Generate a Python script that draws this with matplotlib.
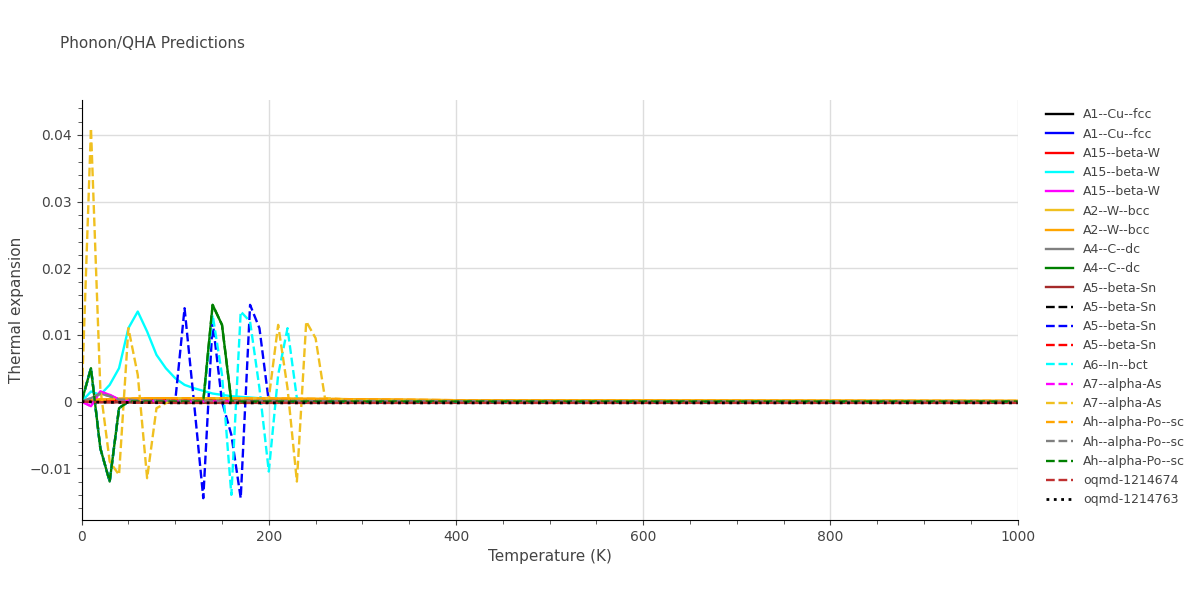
import matplotlib
matplotlib.use("Agg")
import matplotlib.pyplot as plt
import numpy as np

names = ["A1--Cu--fcc","A1--Cu--fcc","A15--beta-W","A15--beta-W","A15--beta-W","A2--W--bcc","A2--W--bcc",
         "A4--C--dc","A4--C--dc","A5--beta-Sn","A5--beta-Sn","A5--beta-Sn","A5--beta-Sn","A6--In--bct",
         "A7--alpha-As","A7--alpha-As","Ah--alpha-Po--sc","Ah--alpha-Po--sc","Ah--alpha-Po--sc","oqmd-1214674","oqmd-1214763"]
colors = ["black","blue","red","cyan","magenta","#f0c020","orange","gray","green","brown","black","blue","red",
          "cyan","magenta","#f0c020","orange","gray","green","#c03030","black"]
styles = ["-"]*10 + ["--"]*10 + [":"]

T_flat = [0, 10, 20, 30, 40, 60, 100, 200, 300, 500, 1000]
flat = [0, 0.0001, 0.0002, 0.0002, 0.0002, 0.0002, 0.0002, 0.0001, 0.0001, 0.0, 0.0]

T_a15 = [0,10,20,30,40,50,60,70,80,90,100,110,120,140,160,200,250,300,1000]
v_a15 = [0,0.0015,0.001,0.0025,0.005,0.011,0.0135,0.0105,0.007,0.005,0.0035,0.0025,0.002,0.0012,0.0008,0.0004,0.0002,0.0001,0]

T_mag = [0,10,20,30,40,60,100,1000]
v_mag = [0,-0.0007,0.0015,0.001,0.0003,0.0001,0,0]

T_gray = [0,10,20,30,40,60,100,1000]
v_gray = [0,0.0005,0.0012,0.0008,0.0003,0.0002,0.0001,0]

T_w = [0,10,20,40,80,150,250,400,1000]
v_w = [0,0.0002,0.0003,0.0004,0.0005,0.0005,0.0004,0.0002,0.0001]

T_c = [0,10,20,30,40,50,130,140,150,160,170,1000]
v_c = [0,0.005,-0.007,-0.012,-0.001,0,0,0.0145,0.0115,0,0,0]

T_sn = [0,10,20,30,40,50,100,110,120,130,140,150,160,170,180,190,200,210,1000]
v_sn = [0,0.005,-0.007,-0.012,-0.001,0,0,0.014,0.0,-0.0145,0.012,0.0,-0.005,-0.0145,0.0145,0.011,0,0,0]

T_in = [0,10,20,30,40,50,130,140,150,160,170,180,190,200,210,220,230,240,1000]
v_in = [0,0.005,-0.007,-0.012,-0.001,0,0,0.013,0.004,-0.014,0.0135,0.012,0.002,-0.0105,0.004,0.011,0.0005,0,0]

T_as = [0,10,20,30,40,50,60,70,80,100,200,210,220,230,240,250,260,300,1000]
v_as = [0,0.041,0.002,-0.009,-0.011,0.011,0.004,-0.0115,-0.001,0.0005,0.0005,0.0115,0.002,-0.012,0.012,0.0095,0.0005,0.0002,0]

T_oq = [0,20,100,300,1000]
v_oq = [0,-0.0001,-0.0002,-0.0002,-0.0002]

data = {
    0:(T_flat,flat),1:(T_flat,flat),2:(T_flat,flat),3:(T_a15,v_a15),4:(T_mag,v_mag),
    5:(T_w,v_w),6:(T_w,v_w),7:(T_gray,v_gray),8:(T_c,v_c),9:(T_oq,v_oq),
    10:(T_flat,flat),11:(T_sn,v_sn),12:(T_flat,flat),13:(T_in,v_in),14:(T_mag,v_mag),
    15:(T_as,v_as),16:(T_w,v_w),17:(T_gray,v_gray),18:(T_c,v_c),19:(T_oq,v_oq),20:(T_oq,v_oq),
}

fig = plt.figure(figsize=(12,6), dpi=100)
ax = fig.add_axes([0.068, 0.133, 0.78, 0.7])
for i, n in enumerate(names):
    x, y = data[i]
    ax.plot(x, y, color=colors[i], ls=styles[i], lw=1.7 if styles[i] != ":" else 2.0, label=n)
ax.set_xlim(0, 1000)
ax.set_ylim(-0.0178, 0.0452)
ax.set_xticks([0,200,400,600,800,1000])
ax.set_yticks([-0.01,0,0.01,0.02,0.03,0.04])
ax.set_yticklabels(["−0.01","0","0.01","0.02","0.03","0.04"])
ax.grid(color="#dddddd", lw=1)
ax.minorticks_on()
ax.tick_params(which="both", color="#444", labelcolor="#444")
ax.tick_params(which="minor", length=3)
for s in ["top","right"]:
    ax.spines[s].set_visible(False)
ax.set_xlabel("Temperature (K)", color="#444", fontsize=11)
ax.set_ylabel("Thermal expansion", color="#444", fontsize=11)
fig.text(0.05, 0.92, "Phonon/QHA Predictions", fontsize=11, color="#444")
fig.legend(loc="upper left", bbox_to_anchor=(0.862, 0.838), frameon=False, fontsize=9,
           labelspacing=0.5, handlelength=2.2, labelcolor="#444")
fig.savefig("out.png")
